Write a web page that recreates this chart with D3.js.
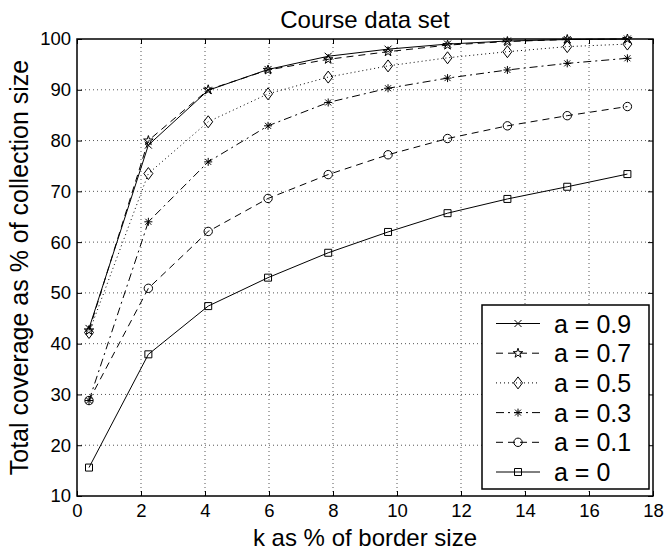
<!DOCTYPE html>
<html><head><meta charset="utf-8">
<script src="https://cdn.jsdelivr.net/npm/d3@7"></script>
<style>body{margin:0;background:#fff}svg{display:block;font-family:"Liberation Sans",Arial,sans-serif}</style>
</head><body><svg id="c" width="667" height="552"></svg>
<script>
const kValues = [0.375, 2.23, 4.1, 5.97, 7.85, 9.72, 11.58, 13.45, 15.32, 17.2];
const seriesNames = ["a = 0.9", "a = 0.7", "a = 0.5", "a = 0.3", "a = 0.1", "a = 0"];
const a09 = [43.0, 79.1, 89.9, 94.0, 96.6, 98.0, 99.0, 99.6, 99.9, 100];
const a07 = [42.6, 80.0, 90.0, 93.9, 96.0, 97.5, 98.8, 99.5, 99.9, 100];
const a05 = [42.2, 73.5, 83.7, 89.2, 92.5, 94.7, 96.3, 97.5, 98.5, 99.0];
const a03 = [28.8, 64.0, 75.8, 82.9, 87.5, 90.3, 92.3, 93.9, 95.2, 96.2];
const a01 = [28.8, 50.9, 62.1, 68.6, 73.3, 77.2, 80.4, 82.9, 84.9, 86.7];
const a00 = [15.6, 37.9, 47.4, 53.0, 57.9, 62.0, 65.7, 68.5, 70.9, 73.4];
const xTicks = [0, 2, 4, 6, 8, 10, 12, 14, 16, 18];
const yTicks = [10, 20, 30, 40, 50, 60, 70, 80, 90, 100];
const titleText = "Course data set";
const xLabel = "k as % of border size";
const yLabel = "Total coverage as % of collection size";

const seriesData = [a09, a07, a05, a03, a01, a00];
const styles = [
  {dash: null, marker: "x"},
  {dash: "7,5", marker: "star"},
  {dash: "1,3", marker: "diamond"},
  {dash: "8,4,2,4", marker: "asterisk"},
  {dash: "7,5", marker: "circle"},
  {dash: null, marker: "square"}
];

const L = 77, R = 653, T = 39, B = 496;
const svg = d3.select("#c");
const x = d3.scaleLinear().domain([0, 18]).range([L, R]);
const y = d3.scaleLinear().domain([10, 100]).range([B, T]);

// grid
const grid = svg.append("g");
grid.selectAll(".gx").data(xTicks.slice(1, -1)).enter().append("line")
  .attr("x1", d => x(d)).attr("x2", d => x(d)).attr("y1", T).attr("y2", B)
  .attr("stroke", "#555").attr("stroke-width", 1).attr("stroke-dasharray", "1,3");
grid.selectAll(".gy").data(yTicks.slice(1, -1)).enter().append("line")
  .attr("y1", d => y(d)).attr("y2", d => y(d)).attr("x1", L).attr("x2", R)
  .attr("stroke", "#555").attr("stroke-width", 1).attr("stroke-dasharray", "1,3");

// axes
const fs = "18.5px";
svg.append("g").attr("transform", `translate(0,${B})`)
  .call(d3.axisBottom(x).tickValues(xTicks).tickSize(-5).tickPadding(8).tickFormat(d3.format("d")));
svg.append("g").attr("transform", `translate(${L},0)`)
  .call(d3.axisLeft(y).tickValues(yTicks).tickSize(-5).tickPadding(6).tickFormat(d3.format("d")));
svg.append("g").attr("transform", `translate(0,${T})`)
  .call(d3.axisTop(x).tickValues(xTicks).tickSize(-5).tickFormat(""));
svg.append("g").attr("transform", `translate(${R},0)`)
  .call(d3.axisRight(y).tickValues(yTicks).tickSize(-5).tickFormat(""));
svg.selectAll(".domain").remove();
svg.selectAll(".tick line").attr("stroke", "#000").attr("stroke-width", 1);
svg.selectAll(".tick text").attr("font-size", fs).attr("fill", "#000")
  .attr("font-family", "'Liberation Sans', Arial, sans-serif");
svg.append("rect").attr("x", L).attr("y", T).attr("width", R - L).attr("height", B - T)
  .attr("fill", "none").attr("stroke", "#000").attr("stroke-width", 1.5);

// markers
function markerPath(type) {
  const p = d3.path();
  if (type === "x") { const s = 3.5; p.moveTo(-s,-s); p.lineTo(s,s); p.moveTo(-s,s); p.lineTo(s,-s); }
  else if (type === "asterisk") { const s = 4, t = 3; p.moveTo(-s,0); p.lineTo(s,0); p.moveTo(0,-s); p.lineTo(0,s); p.moveTo(-t,-t); p.lineTo(t,t); p.moveTo(-t,t); p.lineTo(t,-t); }
  else if (type === "diamond") { p.moveTo(0,-6); p.lineTo(4.5,0); p.lineTo(0,6); p.lineTo(-4.5,0); p.closePath(); }
  else if (type === "square") { p.rect(-3.5,-3.5,7,7); }
  else if (type === "circle") { p.arc(0,0,4.2,0,2*Math.PI); p.closePath(); }
  else if (type === "star") { return d3.symbol(d3.symbolStar, 28)(); }
  return p.toString();
}

const line = d3.line().x(d => x(d[0])).y(d => y(d[1]));
seriesData.forEach((vals, i) => {
  const pts = vals.map((v, j) => [kValues[j], v]);
  const g = svg.append("g");
  g.append("path").attr("d", line(pts)).attr("fill", "none").attr("stroke", "#000")
    .attr("stroke-width", 1).attr("stroke-dasharray", styles[i].dash);
  g.selectAll("path.m").data(pts).enter().append("path").attr("class", "m")
    .attr("d", markerPath(styles[i].marker))
    .attr("transform", d => `translate(${x(d[0])},${y(d[1])})`)
    .attr("fill", "none").attr("stroke", "#000").attr("stroke-width", 1);
});

// legend
const lg = svg.append("g");
lg.append("rect").attr("x", 482).attr("y", 305).attr("width", 167).attr("height", 184)
  .attr("fill", "#fff").attr("stroke", "#000").attr("stroke-width", 1.5);
seriesNames.forEach((name, i) => {
  const yy = 323.5 + i * 29.7;
  lg.append("line").attr("x1", 496).attr("x2", 540).attr("y1", yy).attr("y2", yy)
    .attr("stroke", "#000").attr("stroke-width", 1).attr("stroke-dasharray", styles[i].dash);
  lg.append("path").attr("d", markerPath(styles[i].marker)).attr("transform", `translate(518,${yy})`)
    .attr("fill", "none").attr("stroke", "#000").attr("stroke-width", 1);
  lg.append("text").attr("x", 554).attr("y", yy).attr("dy", "0.36em").attr("font-size", "25px").text(name);
});

// titles
svg.append("text").attr("x", (L + R) / 2).attr("y", 28).attr("text-anchor", "middle")
  .attr("font-size", "24px").text(titleText);
svg.append("text").attr("x", (L + R) / 2).attr("y", 546).attr("text-anchor", "middle")
  .attr("font-size", "24px").text(xLabel);
svg.append("text").attr("transform", `translate(28,${(T + B) / 2}) rotate(-90)`).attr("text-anchor", "middle")
  .attr("font-size", "25px").text(yLabel);
</script></body></html>
